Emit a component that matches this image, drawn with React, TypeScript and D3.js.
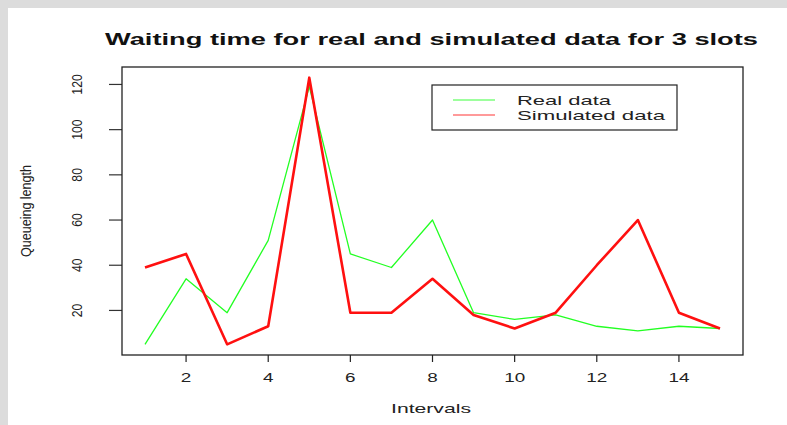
import { useEffect, useRef } from "react";
import * as d3 from "d3";

// values
const intervals = [1, 2, 3, 4, 5, 6, 7, 8, 9, 10, 11, 12, 13, 14, 15];
const realData = [5, 34, 19, 51, 119, 45, 39, 60, 19, 16, 18, 13, 11, 13, 12];
const simulatedData = [39, 45, 5, 13, 123, 19, 19, 34, 18, 12, 19, 40, 60, 19, 12];
const xTicks = [2, 4, 6, 8, 10, 12, 14];
const yTicks = [20, 40, 60, 80, 100, 120];
const legendLabels = ["Real data", "Simulated data"];

const App = () => {
    const ref = useRef<SVGSVGElement>(null);

    useEffect(() => {
        const svg = d3.select(ref.current);
        svg.selectAll("*").remove();

        const W = 787, H = 425;
        const box = { left: 122, right: 743, top: 67, bottom: 355 };
        const font = "'Liberation Sans', Arial, sans-serif";

        // page background (grey frame around the white plot page)
        svg.append("rect").attr("width", W).attr("height", H).attr("fill", "#dcdcdc");
        svg.append("rect").attr("x", 8).attr("y", 8).attr("width", W - 8).attr("height", H - 8).attr("fill", "#ffffff");

        // R style 4% axis extension
        const xExt = d3.extent(intervals) as [number, number];
        const xPad = (xExt[1] - xExt[0]) * 0.04;
        const allY = realData.concat(simulatedData);
        const yExt = d3.extent(allY) as [number, number];
        const yPad = (yExt[1] - yExt[0]) * 0.04;

        const x = d3.scaleLinear()
            .domain([xExt[0] - xPad, xExt[1] + xPad])
            .range([box.left, box.right]);
        const y = d3.scaleLinear()
            .domain([yExt[0] - yPad, yExt[1] + yPad])
            .range([box.bottom, box.top]);

        // x axis ticks + labels
        const xg = svg.append("g");
        xg.selectAll("line").data(xTicks).enter().append("line")
            .attr("x1", d => x(d)).attr("x2", d => x(d))
            .attr("y1", box.bottom).attr("y2", box.bottom + 7)
            .attr("stroke", "#222").attr("stroke-width", 1.2);
        xg.selectAll("text").data(xTicks).enter().append("text")
            .attr("x", d => x(d)).attr("y", 382)
            .attr("text-anchor", "middle")
            .attr("font-family", font).attr("font-size", 12.5).attr("fill", "#222")
            .attr("textLength", d => String(d).length * 10.5)
            .attr("lengthAdjust", "spacingAndGlyphs")
            .text(d => d);

        // y axis ticks + rotated labels
        const yg = svg.append("g");
        yg.selectAll("line").data(yTicks).enter().append("line")
            .attr("x1", box.left - 13).attr("x2", box.left)
            .attr("y1", d => y(d)).attr("y2", d => y(d))
            .attr("stroke", "#333").attr("stroke-width", 1.2);
        yg.selectAll("text").data(yTicks).enter().append("text")
            .attr("transform", d => `translate(82,${y(d)}) rotate(-90)`)
            .attr("text-anchor", "middle")
            .attr("font-family", font).attr("font-size", 14.5).attr("fill", "#222")
            .attr("textLength", d => String(d).length * 6.8)
            .attr("lengthAdjust", "spacingAndGlyphs")
            .text(d => d);

        // lines
        const line = d3.line<number>()
            .x((_d, i) => x(intervals[i]))
            .y(d => y(d));
        svg.append("path")
            .datum(realData)
            .attr("fill", "none")
            .attr("stroke", "#22ff22")
            .attr("stroke-width", 1.3)
            .attr("stroke-linejoin", "round")
            .attr("d", line);
        svg.append("path")
            .datum(simulatedData)
            .attr("fill", "none")
            .attr("stroke", "#ff1010")
            .attr("stroke-width", 2.6)
            .attr("stroke-linejoin", "round")
            .attr("d", line);

        // plot box
        svg.append("rect")
            .attr("x", box.left).attr("y", box.top)
            .attr("width", box.right - box.left).attr("height", box.bottom - box.top)
            .attr("fill", "none").attr("stroke", "#222").attr("stroke-width", 1.3);

        // legend
        const lg = svg.append("g");
        lg.append("rect")
            .attr("x", 432).attr("y", 85).attr("width", 245).attr("height", 45)
            .attr("fill", "#fff").attr("stroke", "#222").attr("stroke-width", 1.2);
        const legendColors = ["#7dff7d", "#ff9a9a"];
        const legendLens = [94, 148];
        legendLabels.forEach((lab, i) => {
            const ly = 100 + i * 15;
            lg.append("line")
                .attr("x1", 453).attr("x2", 495).attr("y1", ly).attr("y2", ly)
                .attr("stroke", legendColors[i]).attr("stroke-width", i === 0 ? 1.5 : 2.2);
            lg.append("text")
                .attr("x", 517).attr("y", ly + 4.5)
                .attr("font-family", font).attr("font-size", 13).attr("fill", "#222")
                .attr("textLength", legendLens[i])
                .attr("lengthAdjust", "spacingAndGlyphs")
                .text(lab);
        });

        // title + axis titles
        svg.append("text")
            .attr("x", 105).attr("y", 45)
            .attr("font-family", font).attr("font-size", 16.5).attr("font-weight", "bold").attr("fill", "#111")
            .attr("textLength", 653).attr("lengthAdjust", "spacingAndGlyphs")
            .text("Waiting time for real and simulated data for 3 slots");
        svg.append("text")
            .attr("x", 431).attr("y", 413)
            .attr("text-anchor", "middle")
            .attr("font-family", font).attr("font-size", 13).attr("fill", "#222")
            .attr("textLength", 80).attr("lengthAdjust", "spacingAndGlyphs")
            .text("Intervals");
        svg.append("text")
            .attr("transform", "translate(31,211) rotate(-90)")
            .attr("text-anchor", "middle")
            .attr("font-family", font).attr("font-size", 14).attr("fill", "#222")
            .attr("textLength", 92).attr("lengthAdjust", "spacingAndGlyphs")
            .text("Queueing length");
    }, []);

    return (
        <svg ref={ref} width={787} height={425}
            style={{ position: "absolute", left: 0, top: 0, display: "block" }} />
    );
};

export default App;
